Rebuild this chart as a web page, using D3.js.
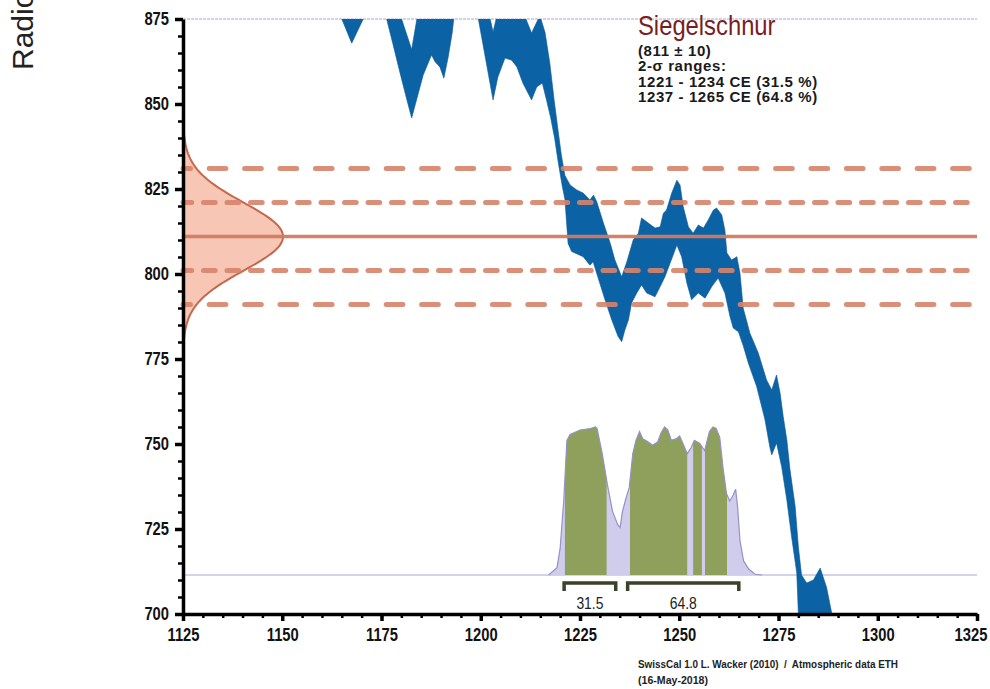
<!DOCTYPE html>
<html>
<head>
<meta charset="utf-8">
<script src="https://cdn.jsdelivr.net/npm/d3@7"></script>
<style>
  body { margin: 0; background: #fff; }
  svg { display: block; }
</style>
</head>
<body>
<div id="wrapper"></div>
<script>
// sample measurement
const sampleName = "Siegelschnur"
const c14Age = 811
const c14Error = 10
const infoLines = ["(811 \u00b1 10)", "2-\u03c3 ranges:", "1221 - 1234 CE (31.5 %)", "1237 - 1265 CE (64.8 %)"]
const creditLines = ["SwissCal 1.0 L. Wacker (2010)  /  Atmospheric data ETH", "(16-May-2018)"]
const creditWidths = [260, 70]

// axis ticks
const yearTicks = d3.range(1125, 1326, 25)
const yearMinorTicks = d3.range(1125, 1326, 5)
const ageTicks = d3.range(700, 876, 25)
const ageMinorTicks = d3.range(700, 876, 5)

// calibration curve band: [year, 14C age]
const calUpper = [
  [1160, 900], [1179.5, 877], [1182.6, 866], [1184.2, 877], [1202, 877], [1203.1, 871.2],
  [1204.3, 877], [1210.7, 877], [1212.8, 870.9], [1214.9, 876], [1216.2, 871], [1217.4, 862],
  [1218.5, 851], [1219.5, 842], [1220.3, 835], [1221.2, 829], [1222.5, 826.2], [1224.2, 824.7],
  [1225.8, 823.8], [1227.5, 821.8], [1228.4, 823.2], [1229.2, 821.3], [1230.9, 815], [1232.6, 809.1],
  [1233.8, 804.1], [1235.5, 799.2], [1236.8, 803.6], [1238.4, 810], [1239.7, 812], [1240.5, 816.5],
  [1242.2, 815], [1243.9, 813.5], [1245.2, 813.9], [1246, 817.9], [1246.8, 818.8], [1248.1, 823.8],
  [1249.4, 827.6], [1250.2, 826.2], [1251, 819.8], [1252.3, 813.9], [1253.5, 812], [1254.8, 814.4],
  [1256.1, 813.5], [1257.3, 815.9], [1258.6, 818.8], [1259.4, 819.4], [1260.7, 817.4], [1261.5, 812.9],
  [1262, 806.2], [1263.2, 804.1], [1264.5, 805.1], [1265.3, 800.3], [1266.1, 790], [1267.8, 782.6],
  [1269.9, 776.8], [1272, 768.8], [1273.3, 765.9], [1274.5, 770.3], [1275.4, 765], [1276.2, 758],
  [1277.1, 751.2], [1277.9, 742.4], [1279.2, 731.6], [1280, 719.8], [1280.8, 711.5], [1282.1, 709.1],
  [1283.8, 710], [1285.5, 713.5], [1287.1, 707.9], [1288.4, 700.3], [1290, 694]
]
const calLower = [
  [1160, 880], [1164, 877], [1165, 875], [1167.5, 867.9], [1170.4, 875], [1172, 878], [1175.5, 877],
  [1176.3, 875], [1177.8, 868], [1179.7, 859], [1181.4, 851.2], [1182.6, 845.9], [1185.5, 858.5],
  [1187.6, 864.4], [1188.5, 862.4], [1189.7, 860.9], [1190.7, 857.6], [1191.8, 863.8], [1192.8, 870.9],
  [1193.3, 876], [1194, 880], [1198.5, 880], [1199.4, 875], [1203.1, 851.2], [1204.3, 857.9],
  [1206.1, 863.5], [1207.8, 862.9], [1209.1, 860.9], [1210.6, 856.2], [1212.8, 851.2], [1214.1, 855],
  [1215.5, 856.2], [1216.6, 851], [1217.6, 846], [1218.6, 840], [1219.5, 833], [1220.5, 826],
  [1221.2, 822], [1222, 809], [1222.9, 806.6], [1225.8, 805.1], [1227.5, 802.6], [1228.3, 803.6],
  [1229.5, 799.1], [1231.3, 792.4], [1233, 786.5], [1234.6, 781.6], [1235.5, 780.1], [1236.3, 783.5],
  [1237.2, 786.5], [1238, 791.5], [1239.3, 794.4], [1240.5, 796.8], [1241.8, 794.4], [1243.9, 793.3],
  [1245.2, 796.3], [1246.4, 799.2], [1247.7, 803.2], [1249.4, 808.5], [1250.6, 805.1], [1251.9, 797.4],
  [1253.1, 792.4], [1254.8, 794.4], [1256.5, 792.9], [1258.2, 796.3], [1259.8, 798.8], [1261.5, 794.4],
  [1262.8, 787.4], [1263.6, 784.1], [1264.9, 783], [1266.1, 779], [1267.4, 773.8], [1269.5, 766.9],
  [1271.6, 757.1], [1272.8, 749.2], [1273.3, 746.8], [1274.5, 750.3], [1275.8, 743.3], [1277.1, 733.5],
  [1278.3, 722.7], [1279.6, 712.1], [1280, 700.3], [1281, 690], [1290, 690]
]

// calibrated probability (relative)
const probYears = [1217.1, 1219.2, 1220, 1220.9, 1221.7, 1222.5, 1225, 1227.6, 1228.9, 1229.3, 1230.6,
  1231.9, 1233.2, 1234.5, 1235.1, 1235.7, 1236.6, 1237.4, 1238.3, 1239.1, 1240, 1240.8, 1242.1, 1243.3,
  1244.6, 1245.4, 1246.3, 1247.1, 1248, 1249.2, 1250.1, 1250.9, 1252, 1253, 1253.8, 1255.1, 1256.4,
  1257.6, 1258.5, 1259.3, 1260.2, 1261, 1261.9, 1262.7, 1263.6, 1264.2, 1264.7, 1265.3, 1266.2, 1267.5,
  1269.1, 1270.8]
const probValues = [0, 0.05, 0.18, 0.5, 0.91, 0.95, 0.98, 0.99, 1, 0.99, 0.82,
  0.61, 0.43, 0.34, 0.32, 0.43, 0.52, 0.59, 0.82, 0.91, 0.97, 0.92, 0.9, 0.877,
  0.9, 0.96, 1, 0.98, 0.91, 0.92, 0.94, 0.89, 0.82, 0.86, 0.91, 0.89, 0.84,
  0.97, 1, 0.99, 0.93, 0.73, 0.55, 0.5, 0.54, 0.58, 0.46, 0.23, 0.095, 0.04,
  0.005, 0]

const oneSigmaRanges = [[1221.2, 1231.7], [1237.6, 1252], [1253.5, 1255.7], [1256.5, 1262]]
const twoSigmaRanges = [[1221, 1234], [1237, 1265]]
const twoSigmaPercent = ["31.5", "64.8"]

function drawChart() {
  let dimensions = {
    width: 990,
    height: 689,
    margin: { top: 19, right: 13, bottom: 75, left: 183 }
  }
  dimensions.boundedWidth = dimensions.width - dimensions.margin.left - dimensions.margin.right
  dimensions.boundedHeight = dimensions.height - dimensions.margin.top - dimensions.margin.bottom

  // no condensed Helvetica here, so squeeze Liberation Sans horizontally
  const font = '"Liberation Sans", Arial, sans-serif'
  const squeeze = 0.82

  const wrapper = d3.select("#wrapper")
    .append("svg")
      .attr("width", dimensions.width)
      .attr("height", dimensions.height)

  const bounds = wrapper.append("g")
    .attr("transform", `translate(${dimensions.margin.left},${dimensions.margin.top})`)

  const xScale = d3.scaleLinear()
    .domain([1125, 1325])
    .range([0, dimensions.boundedWidth])

  const yScale = d3.scaleLinear()
    .domain([700, 875])
    .range([dimensions.boundedHeight, 0])

  // probability heights sit on their own baseline
  const pScale = d3.scaleLinear()
    .domain([0, 1])
    .range([556, 408])

  // gaussian width off the y axis
  const gScale = d3.scaleLinear()
    .domain([0, 1])
    .range([0, 100])

  const defs = wrapper.append("defs")
  defs.append("clipPath").attr("id", "plotClip")
    .append("rect")
      .attr("width", dimensions.boundedWidth)
      .attr("height", dimensions.boundedHeight)

  // thin guide lines (top and probability baseline)
  bounds.append("line")
    .attr("x1", 0).attr("x2", dimensions.boundedWidth)
    .attr("y1", yScale(875)).attr("y2", yScale(875))
    .attr("stroke", "#aaa6d8").attr("stroke-width", 1)
    .attr("stroke-dasharray", "3 1")
  bounds.append("line")
    .attr("x1", 0).attr("x2", dimensions.boundedWidth)
    .attr("y1", pScale(0)).attr("y2", pScale(0))
    .attr("stroke", "#aaa6d8").attr("stroke-width", 1)

  // probability distribution
  const probData = probYears.map((d, i) => [d, probValues[i]])
  const probArea = d3.area()
    .x(d => xScale(d[0]))
    .y0(pScale(0))
    .y1(d => pScale(d[1]))

  bounds.append("path")
    .attr("d", probArea(probData))
    .attr("fill", "#cfccec")

  oneSigmaRanges.forEach((r, i) => {
    defs.append("clipPath").attr("id", "sig" + i)
      .append("rect")
        .attr("x", xScale(r[0]))
        .attr("width", xScale(r[1]) - xScale(r[0]))
        .attr("y", 0)
        .attr("height", dimensions.boundedHeight)
    bounds.append("path")
      .attr("d", probArea(probData))
      .attr("fill", "#8f9f5c")
      .attr("clip-path", `url(#sig${i})`)
  })

  bounds.append("path")
    .attr("d", d3.line().x(d => xScale(d[0])).y(d => pScale(d[1]))(probData))
    .attr("fill", "none")
    .attr("stroke", "#9591c9")
    .attr("stroke-width", 1.2)

  // 2-sigma range brackets
  const brackets = bounds.selectAll(".bracket")
    .data(twoSigmaRanges)
    .join("g")
  brackets.append("path")
    .attr("d", d => `M${xScale(d[0])},${pScale(0) + 16}V${pScale(0) + 8}H${xScale(d[1])}V${pScale(0) + 16}`)
    .attr("fill", "none")
    .attr("stroke", "#39432a")
    .attr("stroke-width", 3.5)
  brackets.append("text")
    .attr("transform", d => `translate(${(xScale(d[0]) + xScale(d[1])) / 2},${pScale(0) + 34}) scale(${squeeze},1)`)
    .attr("text-anchor", "middle")
    .style("font-family", font)
    .style("font-size", "17px")
    .attr("fill", "#222")
    .text((d, i) => twoSigmaPercent[i])

  // calibration curve band
  const bandPoints = calUpper.concat(calLower.slice().reverse())
  bounds.append("path")
    .attr("clip-path", "url(#plotClip)")
    .attr("d", d3.line().x(d => xScale(d[0])).y(d => yScale(d[1]))(bandPoints) + "Z")
    .attr("fill", "#0b63a6")
    .attr("stroke", "#0a5792")
    .attr("stroke-width", 0.6)

  // measurement gaussian on the y axis
  const gaussPts = d3.range(-3, 3.001, 0.05).map(z => [Math.exp(-0.5 * z * z), c14Age + z * c14Error])
  bounds.append("path")
    .attr("d", d3.area()
      .x0(0)
      .x1(d => gScale(d[0]))
      .y(d => yScale(d[1]))(gaussPts))
    .attr("fill", "#f7c6b4")
  bounds.append("path")
    .attr("d", d3.line().x(d => gScale(d[0])).y(d => yScale(d[1]))(gaussPts))
    .attr("fill", "none")
    .attr("stroke", "#c4674c")
    .attr("stroke-width", 2)

  // measurement lines: mean, 1 sigma, 2 sigma
  const refLines = [
    { v: c14Age + 2 * c14Error, dash: "16.7 18.7", off: 9.2 },
    { v: c14Age + c14Error, dash: "11.7 11.8", off: 3 },
    { v: c14Age - c14Error, dash: "11.7 11.8", off: 3 },
    { v: c14Age - 2 * c14Error, dash: "16.7 18.7", off: 9.2 }
  ]
  bounds.selectAll(".ref")
    .data(refLines)
    .join("line")
      .attr("x1", 0).attr("x2", dimensions.boundedWidth)
      .attr("y1", d => yScale(d.v)).attr("y2", d => yScale(d.v))
      .attr("stroke", "#d6836a")
      .attr("stroke-opacity", 0.9)
      .attr("stroke-width", 5)
      .attr("stroke-linecap", "round")
      .attr("stroke-dasharray", d => d.dash)
      .attr("stroke-dashoffset", d => d.off)
  bounds.append("line")
    .attr("x1", 0).attr("x2", dimensions.boundedWidth)
    .attr("y1", yScale(c14Age)).attr("y2", yScale(c14Age))
    .attr("stroke", "#d27a60")
    .attr("stroke-opacity", 0.95)
    .attr("stroke-width", 3.5)

  // axes
  const yAxis = bounds.append("g")
    .call(d3.axisLeft(yScale).tickValues(ageTicks).tickFormat(d3.format("d"))
      .tickSize(8).tickPadding(6).tickSizeOuter(0))
  yAxis.selectAll(".tick line").attr("stroke-width", 3.5)
  yAxis.select(".domain").attr("stroke-width", 3.5)
  yAxis.selectAll("text")
    .attr("x", -14 / squeeze)
    .attr("transform", `scale(${squeeze},1)`)
    .style("font-family", font)
    .style("font-size", "18px")
    .style("font-weight", "bold")
    .attr("fill", "#111")
  bounds.append("g")
    .call(d3.axisLeft(yScale).tickValues(ageMinorTicks).tickSize(5).tickFormat("").tickSizeOuter(0))
    .call(g => g.select(".domain").remove())
    .selectAll(".tick line").attr("stroke-width", 2.5)

  const xAxis = bounds.append("g")
    .attr("transform", `translate(0,${dimensions.boundedHeight})`)
    .call(d3.axisBottom(xScale).tickValues(yearTicks).tickFormat(d3.format("d"))
      .tickSize(7).tickPadding(7).tickSizeOuter(0))
  xAxis.selectAll(".tick line").attr("stroke-width", 3.5)
  xAxis.select(".domain").attr("stroke-width", 3.5)
  xAxis.selectAll("text")
    .attr("transform", `scale(${squeeze},1)`)
    .attr("dx", d => d === 1325 ? -8 : 0)
    .style("font-family", font)
    .style("font-size", "18px")
    .style("font-weight", "bold")
    .attr("fill", "#111")
  bounds.append("g")
    .attr("transform", `translate(0,${dimensions.boundedHeight})`)
    .call(d3.axisBottom(xScale).tickValues(yearMinorTicks).tickSize(4).tickFormat("").tickSizeOuter(0))
    .call(g => g.select(".domain").remove())
    .selectAll(".tick line").attr("stroke-width", 2.5)

  // y axis label (cut off at the top, as in the source)
  wrapper.append("text")
    .attr("transform", "translate(33,70) rotate(-90)")
    .style("font-family", font)
    .style("font-size", "30px")
    .attr("fill", "#222")
    .text("Radiocarbon determination (BP)")

  // sample info
  wrapper.append("text")
    .attr("transform", `translate(638,35) scale(0.85,1)`)
    .style("font-family", font)
    .style("font-size", "28px")
    .attr("fill", "#7a1d20")
    .text(sampleName)

  wrapper.append("g").selectAll("text")
    .data(infoLines)
    .join("text")
      .attr("x", 638)
      .attr("y", (d, i) => 56 + i * 15.4)
      .style("font-family", font)
      .style("font-size", "15px")
      .style("font-weight", "bold")
      .style("letter-spacing", "0.6px")
      .attr("fill", "#1a1a1a")
      .text(d => d)

  wrapper.append("g").selectAll("text")
    .data(creditLines)
    .join("text")
      .attr("x", 638)
      .attr("y", (d, i) => 668 + i * 16)
      .attr("textLength", (d, i) => creditWidths[i])
      .attr("lengthAdjust", "spacingAndGlyphs")
      .style("font-family", font)
      .style("font-size", "11px")
      .style("font-weight", "bold")
      .attr("fill", "#222")
      .attr("xml:space", "preserve")
      .text(d => d)
}

drawChart()
</script>
</body>
</html>
